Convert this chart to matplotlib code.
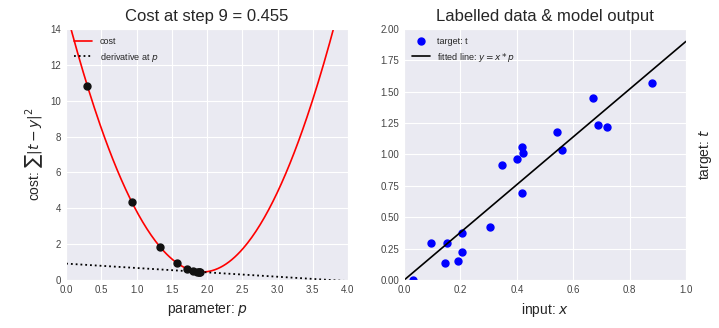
import numpy as np
import matplotlib
matplotlib.use('Agg')
import matplotlib.pyplot as plt
import seaborn as sns

# labelled data
x = np.array([0.033, 0.094, 0.151, 0.144, 0.190, 0.204, 0.206, 0.305, 0.347, 0.399,
              0.420, 0.423, 0.420, 0.541, 0.560, 0.672, 0.687, 0.721, 0.881])
t = np.array([0.000, 0.298, 0.298, 0.136, 0.152, 0.226, 0.378, 0.423, 0.918, 0.968,
              1.059, 1.013, 0.697, 1.176, 1.035, 1.447, 1.234, 1.218, 1.566])

# parameter values visited by gradient descent (steps 0..9)
p_steps = [0.30, 0.93, 1.33, 1.57, 1.71, 1.80, 1.85, 1.88, 1.89, 1.90]


def cost(p):
    return ((t - x * p) ** 2).sum()


def gradient(p):
    return 2 * (x * (x * p - t)).sum()


sns.set_style('darkgrid')
plt.rcParams['font.family'] = ['Liberation Sans', 'DejaVu Sans']

fig = plt.figure(figsize=(7.19, 3.28), dpi=100)
ax1 = fig.add_axes([0.092, 0.146, 0.392, 0.766])
ax2 = fig.add_axes([0.562, 0.146, 0.392, 0.766])

# left: cost function
ps = np.linspace(0, 4, 200)
ax1.plot(ps, [cost(p) for p in ps], 'r-', lw=1.2, label='cost')
p_last = p_steps[-1]
c_last = cost(p_last)
ax1.plot(ps, c_last + gradient(p_last) * (ps - p_last), 'k:', lw=1.3,
         label='derivative at $p$')
ax1.plot(p_steps, [cost(p) for p in p_steps], 'o', color='#111111', markersize=5)
ax1.set_xlim(0, 4)
ax1.set_ylim(0, 14)
ax1.set_xticks(np.arange(0, 4.01, 0.5))
ax1.set_xticklabels(['%.1f' % v for v in np.arange(0, 4.01, 0.5)])
ax1.set_title('Cost at step 9 = 0.455', fontsize=12)
ax1.set_xlabel('parameter: $p$', fontsize=10)
ax1.set_ylabel(r'cost: $\sum |t - y|^2$', fontsize=10)
ax1.legend(loc='upper left', fontsize=6.5, frameon=False)

# right: data and fitted line
ax2.plot(x, t, 'o', color='blue', markersize=5, label='target: t')
xs = np.array([0, 1])
ax2.plot(xs, xs * p_last, 'k-', lw=1.2, label='fitted line: $y = x * p$')
ax2.set_xlim(0, 1)
ax2.set_ylim(0, 2)
ax2.set_yticks(np.arange(0, 2.01, 0.25))
ax2.set_yticklabels(['%.2f' % v for v in np.arange(0, 2.01, 0.25)])
ax2.set_title('Labelled data & model output', fontsize=12)
ax2.set_xlabel('input: $x$', fontsize=10)
ax2.yaxis.set_label_position('right')
ax2.set_ylabel('target: $t$', fontsize=10, labelpad=8)
ax2.legend(loc='upper left', fontsize=6.5, frameon=False, numpoints=1)

for ax in (ax1, ax2):
    ax.tick_params(labelsize=7, colors='#444444', length=0)

fig.savefig('out.png', dpi=100)
